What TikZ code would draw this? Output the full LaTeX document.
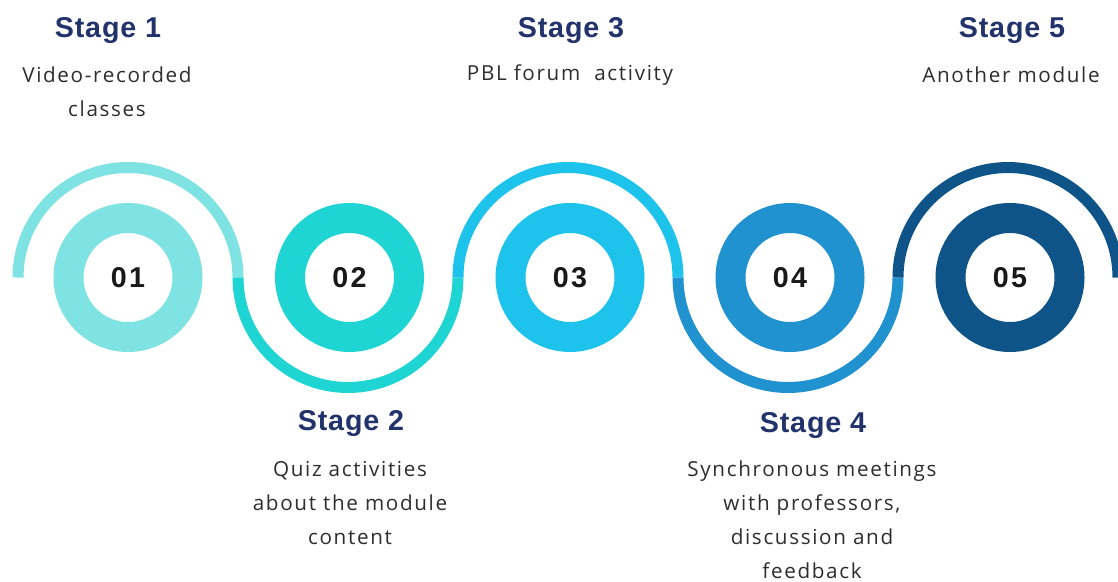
\documentclass[tikz,border=0pt]{standalone}
\usepackage{fontspec}
\newfontfamily\headfont[LetterSpace=3]{Liberation Sans}
\newfontfamily\bodyfont[LetterSpace=8]{Open Sans}
\newfontfamily\numfont[LetterSpace=8]{Liberation Sans}
\definecolor{cA}{HTML}{7FE3E3}
\definecolor{cB}{HTML}{1FD5D3}
\definecolor{cC}{HTML}{1EC3EB}
\definecolor{cD}{HTML}{2192D0}
\definecolor{cE}{HTML}{0E5489}
\definecolor{navy}{HTML}{22336B}
\definecolor{bodygray}{HTML}{2E2E2E}
\begin{document}
\begin{tikzpicture}[x=0.75pt,y=-0.75pt,
  ring/.style={circle, draw=#1, line width=22.5pt, minimum size=89.25pt, inner sep=0pt,
    font=\numfont\bfseries\fontsize{21.5}{24}\selectfont, text=black!90},
  wave/.style={draw=#1, line width=8.25pt, line cap=butt},
  head/.style={font=\headfont\bfseries\fontsize{21.5}{24}\selectfont, text=navy},
  body/.style={font=\bodyfont\fontsize{15.5}{25.5}\selectfont, text=bodygray, align=center}]
\useasboundingbox (0,0) rectangle (1118,582);
\fill[white] (0,0) rectangle (1118,582);
% rings
\node[ring=cA] (r1) at (128,277.5) {01};
\node[ring=cB] (r2) at (349.5,277.5) {02};
\node[ring=cC] (r3) at (570,277.5) {03};
\node[ring=cD] (r4) at (790,277.5) {04};
\node[ring=cE] (r5) at (1010,277.5) {05};
% wave arcs
\draw[wave=cA] ([xshift=-82.5pt]r1.center) arc[start angle=180, end angle=0, radius=82.5pt] coordinate (j12);
\draw[wave=cB] (j12) arc[start angle=180, end angle=360, radius=82.5pt] coordinate (j23);
\draw[wave=cC] (j23) arc[start angle=180, end angle=0, radius=82.5pt] coordinate (j34);
\draw[wave=cD] (j34) arc[start angle=180, end angle=360, radius=82.5pt] coordinate (j45);
\draw[wave=cE] (j45) arc[start angle=180, end angle=0, radius=82.5pt] coordinate (j5e);
% headings
\node[head] (h1) at (108,31) {Stage 1};
\node[head] (h2) at (351,424) {Stage 2};
\node[head] (h3) at (571,31) {Stage 3};
\node[head] (h4) at (813,426) {Stage 4};
\node[head] (h5) at (1012,31) {Stage 5};
% bodies
\node[body] (b1) at (107,92) {Video-recorded\\classes};
\node[body] (b2) at (350,503.5) {Quiz activities\\about the module\\content};
\node[body] (b3) at (570,75) {PBL forum\ \ activity};
\node[body] (b4) at (812,520) {Synchronous meetings\\with professors,\\discussion and\\feedback};
\node[body] (b5) at (1011,75) {Another module};
\end{tikzpicture}
\end{document}
